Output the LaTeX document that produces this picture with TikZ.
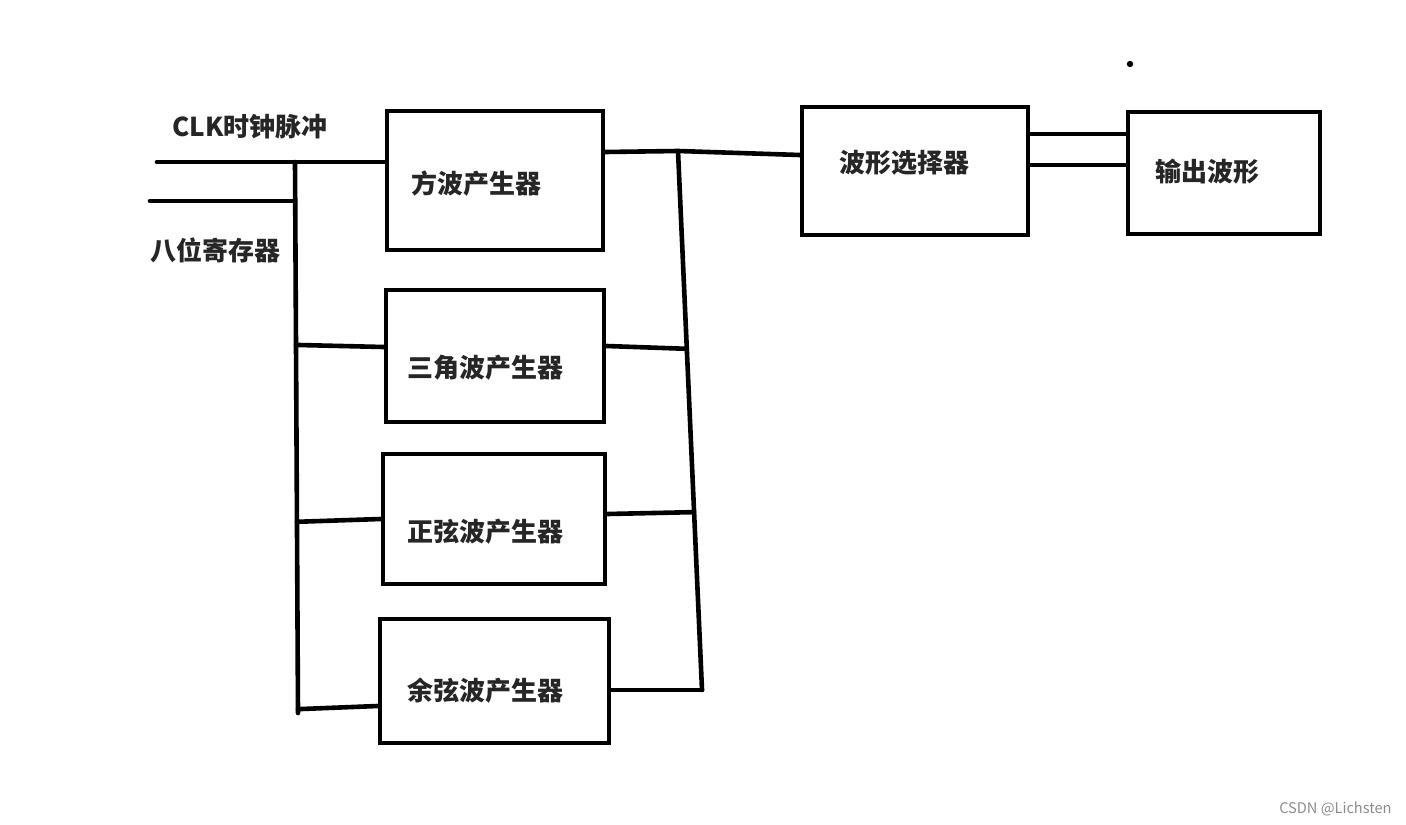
\documentclass[tikz,border=0pt]{standalone}
\usepackage{fontspec}
\setmainfont{Noto Sans CJK SC}
\usepackage{tikz}
\usetikzlibrary{positioning, calc}
\tikzset{
  block/.style={rectangle, draw=black, line width=2.3pt, inner sep=0pt},
  wire/.style={black, line width=2.3pt, line cap=round},
  caption/.style={font=\fontsize{13}{15}\selectfont\bfseries, text=black!85, inner sep=0pt},
  mark dot/.style={black},
  watermark/.style={font=\fontsize{7.3}{8}\selectfont, text=black!45, inner sep=0pt}
}

\begin{document}
\begin{tikzpicture}[x=0.5pt, y=-0.5pt]
\useasboundingbox (0,0) rectangle (1406,824);
% generator blocks
\node[block, minimum width=108pt, minimum height=69.5pt] (square) at (495,180.5) {};
\node[block, minimum width=109pt, minimum height=66pt] (triangle) at (495,356) {};
\node[block, minimum width=111pt, minimum height=65pt] (sine) at (494,519) {};
\node[block, minimum width=114.5pt, minimum height=62pt] (cosine) at (494.5,681) {};
\node[block, minimum width=113pt, minimum height=64pt] (select) at (915,171) {};
\node[block, minimum width=96pt, minimum height=61pt] (out) at (1224,173) {};
\node[caption] at (476,184) {方波产生器};
\node[caption] at (485,368) {三角波产生器};
\node[caption] at (485,532) {正弦波产生器};
\node[caption] at (485,691) {余弦波产生器};
\node[caption] at (904,163) {波形选择器};
\node[caption] at (1207,172) {输出波形};
\node[caption] (clklabel) at (250,127) {CLK时钟脉冲};
\node[caption] (reglabel) at (215,250) {八位寄存器};
% input bus
\coordinate (clkin) at (157,162);
\coordinate (regin) at (150,201);
\coordinate (bustop) at (295,162);
\coordinate (busbot) at (298,713);
\draw[wire] (clkin) -- (square.west |- clkin);
\draw[wire] (regin) -- (regin -| bustop);
\draw[wire] (bustop) -- (busbot);
\draw[wire] ($(bustop)!0.332!(busbot)$) -- ([yshift=4.5pt]triangle.west);
\draw[wire] ($(bustop)!0.653!(busbot)$) -- (sine.west);
\draw[wire] ($(bustop)!0.993!(busbot)$) -- ([yshift=-12.5pt]cosine.west);
% output bus
\coordinate (rbtop) at (678,151);
\coordinate (rbbot) at (702,690);
\draw[wire] (rbtop) -- (rbbot);
\draw[wire] ([yshift=14.25pt]square.east) -- (rbtop) -- ([yshift=8pt]select.west);
\draw[wire] ([yshift=5pt]triangle.east) -- ($(rbtop)!0.367!(rbbot)$);
\draw[wire] ([yshift=2.5pt]sine.east) -- ($(rbtop)!0.670!(rbbot)$);
\draw[wire] ([yshift=-4.5pt]cosine.east) -- (rbbot);
\draw[wire] ([yshift=18.5pt]select.east) -- ([yshift=19.5pt]out.west);
\draw[wire] ([yshift=3pt]select.east) -- ([yshift=4pt]out.west);
% stray dot
\coordinate (dot) at (1130,64);
\fill[mark dot] (dot) circle (1.6pt);
\node[watermark, anchor=east] (wm) at (1392,809) {CSDN @Lichsten};
\end{tikzpicture}
\end{document}
